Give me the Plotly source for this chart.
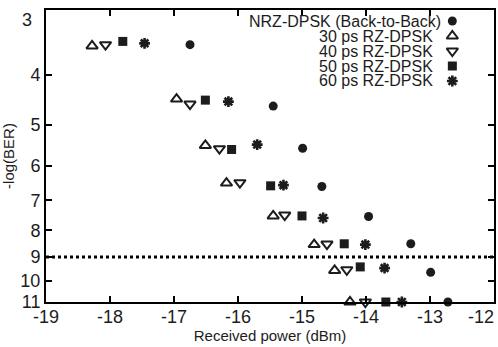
import math
import plotly.graph_objects as go

# ---- data ----
nrz_x = [-16.75, -15.45, -14.99, -14.69, -13.96, -13.30, -12.99, -12.72]
nrz_y = [3.50, 4.60, 5.55, 6.58, 7.52, 8.49, 9.64, 11.0]
rz30_x = [-18.28, -16.96, -16.51, -16.18, -15.45, -14.81, -14.49, -14.25]
rz30_y = [3.52, 4.46, 5.48, 6.48, 7.50, 8.52, 9.56, 11.0]
rz40_x = [-18.07, -16.75, -16.29, -15.97, -15.27, -14.61, -14.30, -14.01]
rz40_y = [3.50, 4.56, 5.56, 6.47, 7.47, 8.50, 9.53, 11.0]
rz50_x = [-17.80, -16.51, -16.10, -15.49, -15.00, -14.34, -14.09, -13.69]
rz50_y = [3.45, 4.48, 5.58, 6.56, 7.50, 8.49, 9.41, 11.0]
rz60_x = [-17.46, -16.15, -15.70, -15.29, -14.67, -14.01, -13.71, -13.44]
rz60_y = [3.48, 4.51, 5.46, 6.54, 7.57, 8.52, 9.46, 11.0]

series_names = ["NRZ-DPSK (Back-to-Back)", "30 ps RZ-DPSK", "40 ps RZ-DPSK",
                "50 ps RZ-DPSK", "60 ps RZ-DPSK"]
x_ticks = [-19, -18, -17, -16, -15, -14, -13, -12]
y_ticks = [3, 4, 5, 6, 7, 8, 9, 10, 11]
threshold = 9

INK = "#1c1c1c"
FONT = "Liberation Sans, Arial, sans-serif"

styles = [
    dict(symbol="circle", size=9, color=INK, line=dict(width=0)),
    dict(symbol="triangle-up-open", size=10, color=INK, line=dict(width=2, color=INK)),
    dict(symbol="triangle-down-open", size=10, color=INK, line=dict(width=2, color=INK)),
    dict(symbol="square", size=9, color=INK, line=dict(width=0)),
    dict(symbol="asterisk-open", size=9, color=INK, line=dict(width=2.6, color=INK)),
]
xs = [nrz_x, rz30_x, rz40_x, rz50_x, rz60_x]
ys = [nrz_y, rz30_y, rz40_y, rz50_y, rz60_y]

fig = go.Figure()
for name, x, y, st in zip(series_names, xs, ys, styles):
    fig.add_trace(go.Scatter(x=x, y=y, mode="markers", name=name, marker=st,
                             cliponaxis=False, showlegend=False))

# legend keys on a hidden overlay axis (symbols to the right of the text)
key_x = 0.907
row0_px, row_step_px, plot_h = 11, 15, 292
for i, (name, st) in enumerate(zip(series_names, styles)):
    yk = 1 - (row0_px + i * row_step_px) / plot_h
    fig.add_trace(go.Scatter(x=[key_x], y=[yk], mode="markers", marker=st,
                             xaxis="x2", yaxis="y2", showlegend=False,
                             cliponaxis=False, hoverinfo="skip"))
    fig.add_annotation(text=name, xref="paper", yref="paper",
                       x=0.887 if i == 0 else 0.869, y=yk,
                       xanchor="right", yanchor="middle", showarrow=False,
                       font=dict(family=FONT, size=16, color=INK))

fig.add_shape(type="line", xref="paper", yref="y", x0=0, x1=1,
              y0=threshold, y1=threshold,
              line=dict(color="black", width=3, dash="dot"))

tick_font = dict(family=FONT, size=18, color=INK)
axis_common = dict(showline=True, linecolor="black", linewidth=2, mirror="ticks",
                   ticks="inside", ticklen=6, tickwidth=2, tickcolor="black",
                   showgrid=False, zeroline=False, tickfont=tick_font)

# end labels nudged inside the canvas, as in the reference
x_text = [str(v) for v in x_ticks]
y_text = [str(v) for v in y_ticks]
fig.add_annotation(text=x_text[-1], xref="paper", yref="paper", x=1, y=0,
                   xanchor="right", yanchor="middle", xshift=2, yshift=-15,
                   showarrow=False, font=tick_font)
fig.add_annotation(text=y_text[0], xref="paper", yref="paper", x=0, y=1,
                   xanchor="right", yanchor="middle", xshift=-12, yshift=-10,
                   showarrow=False, font=tick_font)
x_text[-1] = ""
y_text[0] = ""

fig.update_layout(
    width=498, height=347,
    margin=dict(l=46, r=2, t=10, b=45),
    paper_bgcolor="white", plot_bgcolor="white",
    xaxis=dict(range=[-19, -12], tickvals=x_ticks, ticktext=x_text,
               ticklabelstandoff=-3,
               title=dict(text="Received power (dBm)", standoff=1,
                          font=dict(family=FONT, size=15, color=INK)),
               **axis_common),
    yaxis=dict(type="log", range=[math.log10(11), math.log10(3)], tickvals=y_ticks,
               ticktext=y_text,
               title=dict(text="-log(BER)", standoff=2,
                          font=dict(family=FONT, size=15, color=INK)),
               **axis_common),
    xaxis2=dict(overlaying="x", range=[0, 1], visible=False),
    yaxis2=dict(overlaying="y", range=[0, 1], visible=False),
)

fig.write_html("out.html")
